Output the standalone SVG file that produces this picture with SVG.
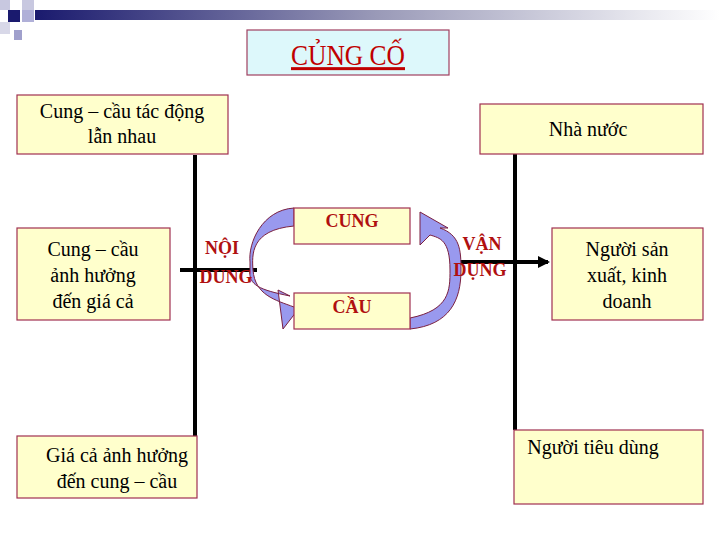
<svg xmlns="http://www.w3.org/2000/svg" width="720" height="540" viewBox="0 0 720 540">
<defs>
<linearGradient id="bar" x1="0" x2="1" y1="0" y2="0"><stop offset="0" stop-color="#1a1a6e"/><stop offset="0.5" stop-color="#9a9ab8"/><stop offset="1" stop-color="#ffffff"/></linearGradient>
<marker id="ah" markerWidth="3" markerHeight="3" refX="2.5" refY="1.5" orient="auto-start-reverse" markerUnits="strokeWidth"><path d="M0,0 L3,1.5 L0,3 z" fill="#000"/></marker>
</defs>
<style>
.box{fill:#ffffcc;stroke:#a03050;stroke-width:1.2}
.t{font-family:"Liberation Serif",serif;font-size:20px;fill:#000;text-anchor:middle}
.r{font-family:"Liberation Serif",serif;font-size:18px;font-weight:bold;fill:#b01010;text-anchor:middle}
.ln{stroke:#000;stroke-width:4;fill:none}
.arc{fill:#9999ee;stroke:#7a2040;stroke-width:1}
</style>
<rect width="720" height="540" fill="#fff"/>
<rect x="35" y="10" width="685" height="10" fill="url(#bar)"/>
<rect x="0" y="0" width="10" height="10" fill="#c8c8e0"/>
<rect x="8" y="10" width="12" height="12" fill="#1a1a6e"/>
<rect x="22" y="0" width="12" height="10" fill="#c8c8e0"/>
<rect x="22" y="10" width="12" height="12" fill="#b0b0d8"/>
<rect x="0" y="22" width="10" height="12" fill="#d8d8e8"/>
<rect x="14" y="30" width="8" height="10" fill="#a0a0cc"/>
<g id="title"><rect x="247" y="30" width="202" height="45" fill="#ddf8fb" stroke="#a04060" stroke-width="1.2"/>
<text x="348" y="65" font-family="Liberation Serif,serif" font-size="30" fill="#c00000" text-anchor="middle" text-decoration="underline" transform="translate(348 0) scale(0.85 1) translate(-348 0)">CỦNG CỐ</text></g>
<g id="connectors">
<line class="ln" x1="195" y1="155" x2="195" y2="436"/>
<line class="ln" x1="515" y1="104" x2="515" y2="430"/>
<line class="ln" x1="180" y1="270" x2="257" y2="270"/>
<line class="ln" x1="452" y1="262" x2="548" y2="262" marker-end="url(#ah)"/>
<path class="arc" d="M294,226 C250,230 252,255 253,270 C255,295 275,300 294,307 L300,307 L283,329 L278,290 L290,296 C260,290 248,285 250,270 L250,262 C248,243 262,210 294,208 Z"/>
<path class="arc" d="M410,318 C450,310 450,290 450,270 C450,240 440,238 430,235 L420,245 L420,212 L448,228 L440,228 C460,235 461,250 461,270 C461,300 450,325 410,329 Z"/>
</g>
<g id="n1"><rect class="box" x="17" y="95" width="211" height="59"/><text class="t" x="122" y="118">Cung – cầu tác động</text><text class="t" x="122" y="143">lẫn nhau</text></g>
<g id="n2"><rect class="box" x="480" y="104" width="223" height="50"/><text class="t" x="588" y="136">Nhà nước</text></g>
<g id="n3"><rect class="box" x="17" y="228" width="153" height="92"/><text class="t" x="93" y="256">Cung – cầu</text><text class="t" x="93" y="282">ảnh hưởng</text><text class="t" x="93" y="308">đến giá cả</text></g>
<g id="n4"><rect class="box" x="552" y="228" width="151" height="92"/><text class="t" x="627" y="256">Người sản</text><text class="t" x="627" y="282">xuất, kinh</text><text class="t" x="627" y="308">doanh</text></g>
<g id="n5"><rect class="box" x="17" y="436" width="180" height="62"/><text class="t" x="117" y="462">Giá cả ảnh hưởng</text><text class="t" x="117" y="488">đến cung – cầu</text></g>
<g id="n6"><rect class="box" x="514" y="430" width="189" height="74"/><text class="t" x="593" y="454">Người tiêu dùng</text></g>
<g id="cung"><rect class="box" x="294" y="208" width="116" height="36"/><text class="r" x="352" y="227">CUNG</text></g>
<g id="cau"><rect class="box" x="294" y="293" width="116" height="36"/><text class="r" x="352" y="313">CẦU</text></g>
<text class="r" x="222" y="254">NỘI</text><text class="r" x="226" y="283">DUNG</text>
<text class="r" x="482" y="250">VẬN</text><text class="r" x="480" y="276">DỤNG</text>
</svg>
